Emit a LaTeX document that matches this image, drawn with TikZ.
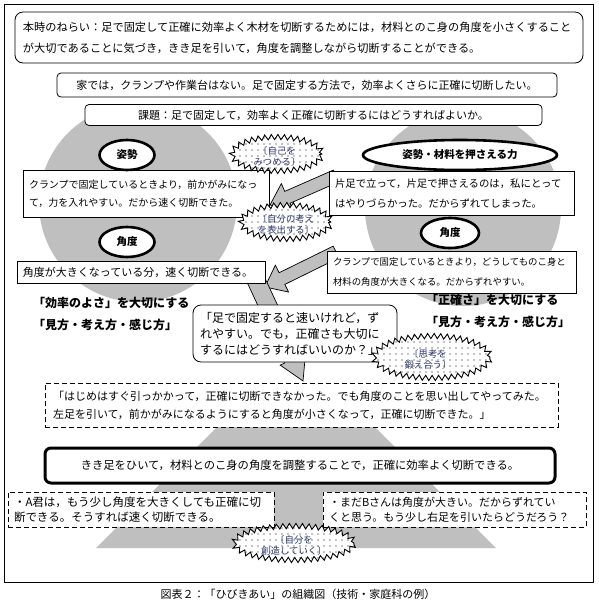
\documentclass[tikz,border=0pt]{standalone}
\usepackage{fontspec}
\setmainfont{Noto Sans CJK JP}
\usetikzlibrary{shapes.geometric, patterns.meta, decorations.pathmorphing}
\definecolor{cgrey}{RGB}{191,191,191}
\definecolor{bubtxt}{RGB}{45,55,110}
\newcommand\fs[2]{\fontsize{#1}{#2}\selectfont}
\tikzset{
  sqbox/.style={draw=black, fill=white, line width=0.8pt, inner sep=0pt, align=left},
  rbox/.style={sqbox, align=center},
  dbox/.style={sqbox, dash pattern=on 5pt off 3pt},
  oval/.style={draw=black, fill=white, ellipse, line width=2.6pt, inner sep=0pt, font=\fs{10.5}{12}\bfseries},
  barrow/.style={draw=black, fill=cgrey, line width=0.7pt, line join=miter},
  bubble/.style={decorate, decoration={zigzag, segment length=6.5pt, amplitude=2.6pt},
    preaction={fill=white}, pattern={Dots[radius=0.55pt, distance=6pt]}, draw=black, line width=0.9pt, line join=miter},
  bubtext/.style={font=\fs{9.4}{11}, text=bubtxt, align=center, inner sep=0pt},
  head/.style={anchor=west, inner sep=0pt, font=\fs{12}{14}\bfseries}
}
\newcommand\blockarrow[6]{%
  \begin{scope}[shift={(#1)}, rotate=#2]
    \draw[barrow] (0,-#4/2) -- (#3-#6,-#4/2) -- (#3-#6,-#5/2) -- (#3,0) -- (#3-#6,#5/2) -- (#3-#6,#4/2) -- (0,#4/2) -- cycle;
  \end{scope}}
\begin{document}
\begin{tikzpicture}[x=1pt, y=-1pt]
\useasboundingbox (0,0) rectangle (599,606);
\fill[white] (0,0) rectangle (599,606);
\draw[line width=0.8pt] (4,4) rectangle (593,582);

% grey background shapes
\fill[cgrey] (138,203) circle (99pt);
\fill[cgrey] (463,208) circle (98pt);
\fill[cgrey] (220,424) -- (372,424) -- (496,548) -- (96,548) -- cycle;

% block arrows
\coordinate (a1s) at (336,176);
\coordinate (a2s) at (336,252);
\coordinate (a3s) at (255,278);
\blockarrow{a1s}{-156.3}{72.1}{13}{30}{19}
\blockarrow{a2s}{-153.8}{79.2}{13}{30}{19}
\blockarrow{a3s}{-65.0}{113.6}{18}{28}{24}

% top boxes
\node[rbox, align=left, rounded corners=8pt, minimum width=568pt, minimum height=51pt, text width=552pt, font=\fs{11.2}{21}] (aim) at (299,37.5)
 {本時のねらい：足で固定して正確に効率よく木材を切断するためには，材料とのこ身の角度を小さくすること\\が大切であることに気づき，きき足を引いて，角度を調整しながら切断することができる。};
\node[rbox, rounded corners=4pt, minimum width=500pt, minimum height=24pt, font=\fs{11}{13}] (home) at (307,85)
 {家では，クランプや作業台はない。足で固定する方法で，効率よくさらに正確に切断したい。};
\node[rbox, rounded corners=4pt, minimum width=457pt, minimum height=21pt, font=\fs{11}{13}] (task) at (313.5,115)
 {課題：足で固定して，効率よく正確に切断するにはどうすればよいか。};

% left side boxes
\node[sqbox, minimum width=246pt, minimum height=47pt, text width=234pt, font=\fs{10}{18}] (a1) at (146,193.5)
 {クランプで固定しているときより，前かがみになっ\\て，力を入れやすい。だから速く切断できた。};
\node[sqbox, minimum width=248pt, minimum height=22pt, text width=236pt, font=\fs{11}{13}] (a2) at (141,272)
 {角度が大きくなっている分，速く切断できる。};
% right side boxes
\node[sqbox, minimum width=245pt, minimum height=44pt, text width=233pt, font=\fs{10.4}{20}] (b1) at (451.5,193)
 {片足で立って，片足で押さえるのは，私にとって\\はやりづらかった。だからずれてしまった。};
\node[sqbox, minimum width=249pt, minimum height=42pt, text width=237pt, font=\fs{9.4}{20}] (b2) at (451.5,272)
 {クランプで固定しているときより，どうしてものこ身と\\材料の角度が大きくなる。だからずれやすい。};

% ovals
\node[oval, minimum width=55pt, minimum height=30pt] (pose1) at (127,155) {姿勢};
\node[oval, minimum width=194pt, minimum height=30pt] (pose2) at (460,155) {姿勢・材料を押さえる力};
\node[oval, minimum width=55pt, minimum height=30pt] (ang1) at (127,242) {角度};
\node[oval, minimum width=58pt, minimum height=30pt] (ang2) at (450,233) {角度};

% bold headings
\node[head] (h1) at (33,303) {「効率のよさ」を大切にする};
\node[head] (h2) at (33,325) {「見方・考え方・感じ方」};
\node[head] (h3) at (426,300) {「正確さ」を大切にする};
\node[head] (h4) at (426,322) {「見方・考え方・感じ方」};

% question box
\node[sqbox, rounded corners=8pt, minimum width=204pt, minimum height=57pt, text width=190pt, font=\fs{12}{16}] (q) at (295,333.5)
 {「足で固定すると速いけれど，ず\\れやすい。でも，正確さも大切に\\するにはどうすればいいのか？」};

% dashed box
\node[dbox, minimum width=513pt, minimum height=44pt, text width=497pt, font=\fs{11}{18}] (first) at (301.5,405)
 {「はじめはすぐ引っかかって，正確に切断できなかった。でも角度のことを思い出してやってみた。\\左足を引いて，前かがみになるようにすると角度が小さくなって，正確に切断できた。」};

% conclusion
\node[rbox, rounded corners=6pt, line width=3pt, minimum width=510pt, minimum height=35pt, font=\fs{11.3}{13}] (concl) at (300,465.5)
 {きき足をひいて，材料とのこ身の角度を調整することで，正確に効率よく切断できる。};

% lower dashed boxes
\node[dbox, minimum width=266pt, minimum height=35pt, text width=254pt, font=\fs{11.5}{15}] (ca) at (141,509.5)
 {・A君は，もう少し角度を大きくしても正確に切\\断できる。そうすれば速く切断できる。};
\node[dbox, minimum width=263pt, minimum height=35pt, text width=251pt, font=\fs{11}{15}] (cb) at (454.5,509.5)
 {・まだBさんは角度が大きい。だからずれてい\\くと思う。もう少し右足を引いたらどうだろう？};

% bubbles
\path[bubble] (277,154) ellipse [x radius=45pt, y radius=17pt];
\node[bubtext] (bub1) at (277,156) {〔自己を\\みつめる〕};
\path[bubble] (286,222) ellipse [x radius=45pt, y radius=17pt];
\node[bubtext] (bub2) at (286,224) {〔自分の考え\\を表出する〕};
\path[bubble] (432,357) ellipse [x radius=58pt, y radius=21pt];
\node[bubtext] (bub3) at (428,359) {〔思考を\\鍛え合う〕};
\path[bubble] (294,543) ellipse [x radius=60pt, y radius=17pt];
\node[bubtext] (bub4) at (294,545) {〔自分を\\創造していく〕};

% caption
\node[inner sep=0pt, font=\fs{11}{13}] (cap) at (298,594) {図表２：「ひびきあい」の組織図（技術・家庭科の例）};
\end{tikzpicture}
\end{document}
